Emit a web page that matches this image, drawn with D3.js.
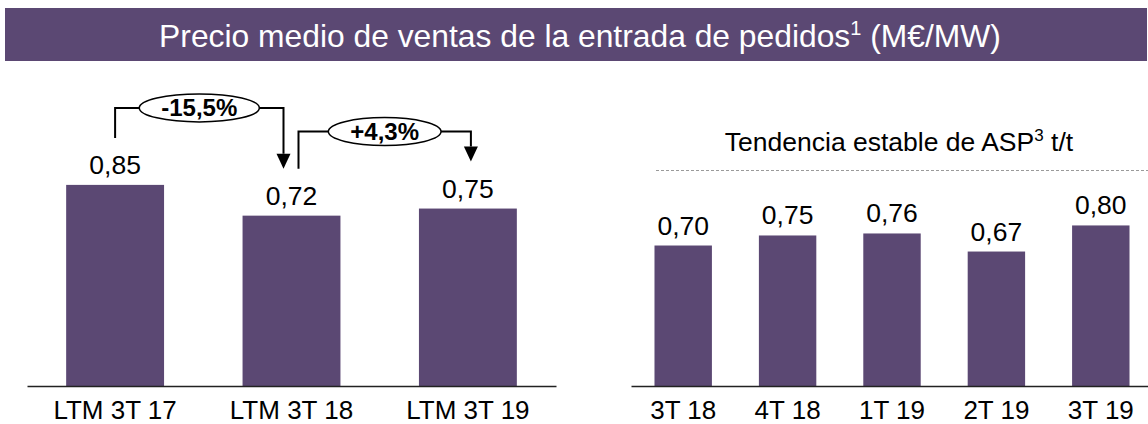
<!DOCTYPE html>
<html>
<head>
<meta charset="utf-8">
<script src="https://cdn.jsdelivr.net/npm/d3@7"></script>
<style>
  body { margin: 0; background: #fff; }
  svg { display: block; font-family: "Liberation Sans", Arial, sans-serif; }
</style>
</head>
<body>
<svg id="chart" width="1148" height="424"></svg>
<script>
const leftCats = ["LTM 3T 17", "LTM 3T 18", "LTM 3T 19"];
const leftVals = [0.85, 0.72, 0.75];
const rightCats = ["3T 18", "4T 18", "1T 19", "2T 19", "3T 19"];
const rightVals = [0.70, 0.75, 0.76, 0.67, 0.80];
const changes = ["-15,5%", "+4,3%"];

const purple = "#5b4873";
const fmt = v => d3.format(".2f")(v).replace(".", ",");

const svg = d3.select("#chart");

// header band
svg.append("rect")
    .attr("x", 5).attr("y", 8)
    .attr("width", 1142).attr("height", 53)
    .attr("fill", purple);

const title = svg.append("text")
    .attr("x", 580).attr("y", 47)
    .attr("text-anchor", "middle")
    .attr("fill", "#fff")
    .style("font-size", "31.8px");
title.append("tspan").text("Precio medio de ventas de la entrada de pedidos");
title.append("tspan").attr("dy", -12).style("font-size", "20px").text("1");
title.append("tspan").attr("dy", 12).text(" (M€/MW)");

const baseY = 386;

// left chart
const xL = d3.scaleBand().domain(leftCats).range([27, 556])
    .paddingInner(0.445).paddingOuter(0.222);
const yL = d3.scaleLinear().domain([0, 1]).range([baseY, baseY - 236.6]);

// right chart
const xR = d3.scaleBand().domain(rightCats).range([631, 1153])
    .paddingInner(0.45).paddingOuter(0.225);
const yR = d3.scaleLinear().domain([0, 1]).range([baseY, baseY - 200.7]);

function drawBars(cats, vals, x, y) {
    const g = svg.append("g");
    g.selectAll("rect")
        .data(vals)
        .join("rect")
        .attr("x", (d, i) => x(cats[i]))
        .attr("y", d => y(d))
        .attr("width", x.bandwidth())
        .attr("height", d => y(0) - y(d))
        .attr("fill", purple);

    g.selectAll("text.val")
        .data(vals)
        .join("text")
        .attr("class", "val")
        .attr("x", (d, i) => x(cats[i]) + x.bandwidth() / 2)
        .attr("y", d => y(d) - 11)
        .attr("text-anchor", "middle")
        .style("font-size", "26.5px")
        .attr("fill", "#000")
        .text(d => fmt(d));

    const ax = svg.append("g")
        .attr("transform", `translate(0,${baseY})`)
        .call(d3.axisBottom(x).tickSize(0).tickSizeOuter(0).tickPadding(15));
    ax.select(".domain").attr("stroke", "#222").attr("stroke-width", 1.5);
    ax.selectAll("text")
        .style("font-size", "26px")
        .style("font-family", "\"Liberation Sans\", Arial, sans-serif")
        .attr("fill", "#000");
}

drawBars(leftCats, leftVals, xL, yL);
drawBars(rightCats, rightVals, xR, yR);

// subtitle + dashed line on the right
const sub = svg.append("text")
    .attr("x", 899).attr("y", 151)
    .attr("text-anchor", "middle")
    .style("font-size", "26.5px")
    .attr("fill", "#000");
sub.append("tspan").text("Tendencia estable de ASP");
sub.append("tspan").attr("dy", -10).style("font-size", "17px").text("3");
sub.append("tspan").attr("dy", 10).text(" t/t");

svg.append("line")
    .attr("x1", 656).attr("x2", 1148)
    .attr("y1", 170.5).attr("y2", 170.5)
    .attr("stroke", "#9a9a9a")
    .attr("stroke-width", 1)
    .attr("stroke-dasharray", "3,2");

// change brackets between the left bars
const cx = i => xL(leftCats[i]) + xL.bandwidth() / 2;
const offs = [[0, -8], [7, 3]];

changes.forEach((c, i) => {
    const x1 = cx(i) + offs[i][0];
    const x2 = cx(i + 1) + offs[i][1];
    const y1 = yL(leftVals[i]) - 47;
    const y2 = yL(leftVals[i + 1]) - 47;
    const ly = Math.min(y1, y2) - 30;
    const mx = (x1 + x2) / 2;

    const g = svg.append("g");
    const t = g.append("text")
        .attr("x", mx).attr("y", ly + 8.5)
        .attr("text-anchor", "middle")
        .style("font-size", "24px")
        .style("font-weight", "bold")
        .attr("fill", "#000")
        .text(c);
    const rx = t.node().getComputedTextLength() / 2 + 22;

    g.append("path")
        .attr("d", `M${x1},${y1}V${ly}H${mx - rx}M${mx + rx},${ly}H${x2}V${y2 - 15}`)
        .attr("fill", "none")
        .attr("stroke", "#000")
        .attr("stroke-width", 2);
    g.append("path")
        .attr("d", `M${x2 - 7},${y2 - 15}L${x2 + 7},${y2 - 15}L${x2},${y2}Z`)
        .attr("fill", "#000");
    g.insert("ellipse", "text")
        .attr("cx", mx).attr("cy", ly)
        .attr("rx", rx).attr("ry", 14)
        .attr("fill", "#fff")
        .attr("stroke", "#000")
        .attr("stroke-width", 1.5);
});
</script>
</body>
</html>
